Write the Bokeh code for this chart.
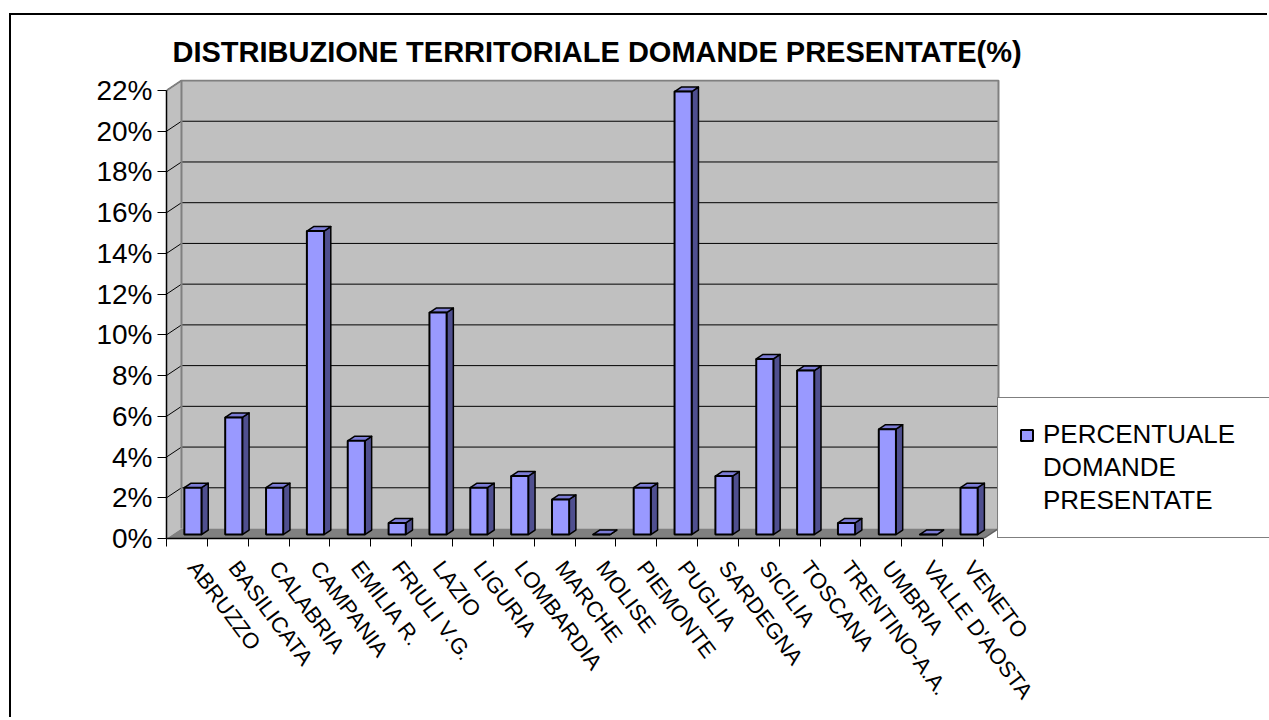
import math
from bokeh.plotting import figure
from bokeh.models import Range1d, FixedTicker, PrintfTickFormatter, Legend, LegendItem
from bokeh.embed import file_html
from bokeh.resources import INLINE

# ---- data ----
categories = ["ABRUZZO", "BASILICATA", "CALABRIA", "CAMPANIA", "EMILIA R.", "FRIULI V.G.",
              "LAZIO", "LIGURIA", "LOMBARDIA", "MARCHE", "MOLISE", "PIEMONTE", "PUGLIA",
              "SARDEGNA", "SICILIA", "TOSCANA", "TRENTINO-A.A.", "UMBRIA", "VALLE D'AOSTA", "VENETO"]
values = [2.3, 5.75, 2.3, 14.9, 4.6, 0.57, 10.9, 2.3, 2.87, 1.72, 0.0, 2.3, 21.75,
          2.87, 8.62, 8.05, 0.57, 5.17, 0.0, 2.3]
y_ticks = [0, 2, 4, 6, 8, 10, 12, 14, 16, 18, 20, 22]
series_lines = ["PERCENTUALE", "DOMANDE", "PRESENTATE"]
title_text = "DISTRIBUZIONE TERRITORIALE DOMANDE PRESENTATE(%)"

# ---- 3D geometry (styling constants) ----
DX = 0.367   # depth, category units
DY = 0.49    # depth, percent units
T0 = 0.40    # bar front plane depth fraction
T1 = 0.45    # bar depth fraction
BW = 0.42    # bar width, category units
LBL_SHIFT = 0.14  # label anchor shift, category units
PXC = 40.85  # px per category
PXY = 20.36  # px per percent

n = len(categories)
ymax = y_ticks[-1]

W, H = 1258, 704
FL, FT = 155, 64
FH = round((ymax + DY + 0.05) * PXY)
XMAX = (W - FL) / PXC

p = figure(width=W, height=H,
           x_range=Range1d(0, XMAX), y_range=Range1d(0, ymax + DY + 0.05),
           output_backend="svg", toolbar_location=None,
           min_border_left=FL, min_border_top=FT,
           min_border_right=0, min_border_bottom=H - FT - FH,
           background_fill_color="white", border_fill_color="white",
           outline_line_color=None)
p.styles = {"border-left": "2px solid black", "border-top": "2px solid black"}
p.margin = (13, 0, 0, 9)
p.grid.visible = False

# walls and floor
p.patch([0, DX, DX, 0], [0, DY, ymax + DY, ymax], fill_color="#C0C0C0", line_color=None)
p.quad(left=[DX], right=[n + DX], bottom=[DY], top=[ymax + DY], fill_color="#C0C0C0", line_color=None)
p.patch([0, n, n + DX, DX], [0, 0, DY, DY], fill_color="#808080", line_color=None)

gt = y_ticks[1:]
p.segment(x0=[DX] * len(gt), y0=[t + DY for t in gt], x1=[n + DX] * len(gt), y1=[t + DY for t in gt],
          line_color="black", line_width=1)
p.segment(x0=[0] * len(gt), y0=gt, x1=[DX] * len(gt), y1=[t + DY for t in gt],
          line_color="black", line_width=1)
# wall edges
p.line([DX, DX], [DY, ymax + DY], line_color="#808080", line_width=2)
p.line([0, DX, n + DX, n + DX], [ymax, ymax + DY, ymax + DY, DY], line_color="#808080", line_width=2)
p.line([n, n + DX], [0, DY], line_color="#606060", line_width=1.5)

# bars
ox, oy = T0 * DX, T0 * DY
dx, dy = T1 * DX, T1 * DY
L = [i + 0.5 + ox - BW / 2 for i in range(n)]
R = [l + BW for l in L]
B = [oy] * n
Tp = [v + oy for v in values]

side_xs = [[r, r + dx, r + dx, r] for r in R]
side_ys = [[b, b + dy, t + dy, t] for b, t in zip(B, Tp)]
top_xs = [[l, r, r + dx, l + dx] for l, r in zip(L, R)]
top_ys = [[t, t, t + dy, t + dy] for t in Tp]

p.patches(side_xs, side_ys, fill_color="#4F4F8F", line_color="black", line_width=1.5, line_join="round")
p.patches(top_xs, top_ys, fill_color="#7C7CD6", line_color="black", line_width=1.5, line_join="round")
front = p.quad(left=L, right=R, bottom=B, top=Tp, fill_color="#9999FF", line_color="black",
               line_width=2)
# empty, invisible renderer used only for the extra legend text lines
blank = p.quad(left=[], right=[], bottom=[], top=[], fill_alpha=0, line_alpha=0)

# axes
xa = p.xaxis[0]
xa.ticker = FixedTicker(ticks=[i + 0.5 + LBL_SHIFT for i in range(n)], minor_ticks=list(range(n + 1)))
xa.major_label_overrides = {i + 0.5 + LBL_SHIFT: c for i, c in enumerate(categories)}
xa.major_label_orientation = -math.radians(53)
xa.bounds = (0, n)
xa.major_tick_line_color = None
xa.major_tick_out = 0
xa.major_tick_in = 0
xa.minor_tick_out = 8
xa.minor_tick_in = 0
xa.minor_tick_line_color = "black"
xa.axis_line_color = "black"
xa.axis_line_width = 1.5
xa.major_label_standoff = 17
xa.major_label_text_font = "Liberation Sans"
xa.major_label_text_font_size = "22px"
xa.major_label_text_color = "black"

ya = p.yaxis[0]
ya.ticker = FixedTicker(ticks=y_ticks, minor_ticks=[])
ya.formatter = PrintfTickFormatter(format="%d%%")
ya.bounds = (0, ymax)
ya.major_tick_out = 9
ya.major_tick_in = 0
ya.minor_tick_line_color = None
ya.axis_line_color = "black"
ya.axis_line_width = 1.5
ya.major_label_standoff = 5
ya.major_label_text_font = "Liberation Sans"
ya.major_label_text_font_size = "28px"
ya.major_label_text_color = "black"

# title
p.title.text = title_text
p.title.align = "left"
p.title.offset = 6
p.title.text_font = "Liberation Sans"
p.title.text_font_style = "bold"
p.title.text_font_size = "29px"
p.title.text_color = "black"
p.title.standoff = 24

# legend
items = [LegendItem(label=series_lines[0], renderers=[front])]
items += [LegendItem(label=s, renderers=[blank]) for s in series_lines[1:]]
legend = Legend(items=items, location=(round((n + DX) * PXC) - 1, 0))
legend.border_line_color = "black"
legend.border_line_width = 1.5
legend.background_fill_color = "white"
legend.padding = 21
legend.spacing = 2
legend.margin = 0
legend.glyph_width = 15
legend.glyph_height = 14
legend.label_height = 30
legend.label_width = 240
legend.label_standoff = 9
legend.label_text_font = "Liberation Sans"
legend.label_text_font_size = "26px"
legend.label_text_color = "black"
p.add_layout(legend)

open("out.html", "w").write(file_html(p, INLINE))
